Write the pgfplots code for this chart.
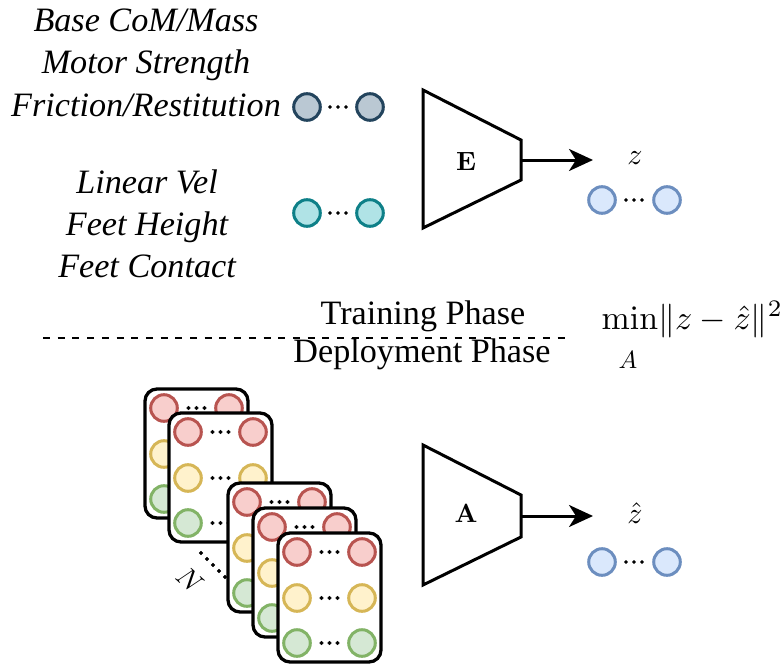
\RequirePackage{fix-cm}
\documentclass[border=0pt]{standalone}
\usepackage[no-math]{fontspec}
\setmainfont{Liberation Serif}
\newfontfamily\tnr{Liberation Serif}
\usepackage{pgfplots}
\pgfplotsset{compat=1.18}
\usetikzlibrary{arrows.meta}
\definecolor{dkF}{HTML}{BAC8D3}\definecolor{dkD}{HTML}{23445D}
\definecolor{tlF}{HTML}{B0E3E6}\definecolor{tlD}{HTML}{0E8088}
\definecolor{blF}{HTML}{DAE8FC}\definecolor{blD}{HTML}{6C8EBF}
\definecolor{rdF}{HTML}{F8CECC}\definecolor{rdD}{HTML}{B85450}
\definecolor{ylF}{HTML}{FFF2CC}\definecolor{ylD}{HTML}{D6B656}
\definecolor{gnF}{HTML}{D5E8D4}\definecolor{gnD}{HTML}{82B366}
\pgfplotsset{
  circ/.style 2 args={only marks, mark=*, mark size=13.3bp, mark options={draw=#2, fill=#1, line width=3bp}},
  dots/.style={only marks, mark=*, mark size=1.8bp, mark options={draw=black, fill=black}},
  card/.style={draw=black, fill=white, line width=3.3bp, rounded corners=12bp},
  trap/.style={draw=black, fill=white, line width=3bp, line join=miter},
  arr/.style={line width=3bp, -{Stealth[length=24bp, width=22bp, inset=7bp]}},
}
\begin{document}
\begin{tikzpicture}
\begin{axis}[width=784bp, height=666bp, scale only axis,
  xmin=0, xmax=784, ymin=0, ymax=666, y dir=reverse,
  axis lines=none, clip=false, clip marker paths=true]
% dashed separator
\addplot[black, line width=2bp, dash pattern=on 7bp off 7.7bp] coordinates {(43,338) (565,338)};
% top inputs
\addplot[circ={dkF}{dkD}] coordinates {(307,107) (370,107)};
\addplot[dots, mark size=1.6bp] coordinates {(330,107) (338,107) (346,107)};
\addplot[circ={tlF}{tlD}] coordinates {(307,213) (370,213)};
\addplot[dots, mark size=1.6bp] coordinates {(330,213) (338,213) (346,213)};
% encoder E
\addplot[trap] coordinates {(423,90) (521,140) (521,180) (423,228)} -- cycle;
\addplot[arr] coordinates {(521,160) (593,160)};
\addplot[circ={blF}{blD}] coordinates {(602,200) (667,200)};
\addplot[dots, mark size=1.6bp] coordinates {(626,200) (634,200) (642,200)};
% adaptation A
\addplot[trap] coordinates {(423,445) (521,495) (521,537) (423,585)} -- cycle;
\addplot[arr] coordinates {(521,516) (593,516)};
\addplot[circ={blF}{blD}] coordinates {(602,562) (667,562)};
\addplot[dots, mark size=1.6bp] coordinates {(626,562) (634,562) (642,562)};
% card 1
\addplot[card] coordinates {(145,389) (248,389) (248,518) (145,518)} -- cycle;
\addplot[circ={rdF}{rdD}] coordinates {(164,408) (229,408)};
\addplot[circ={ylF}{ylD}] coordinates {(164,454) (229,454)};
\addplot[circ={gnF}{gnD}] coordinates {(164,499) (229,499)};
\addplot[dots] coordinates {(188.5,408) (196.5,408) (204.5,408) (188.5,454) (196.5,454) (204.5,454) (188.5,499) (196.5,499) (204.5,499)};
% card 2
\addplot[card] coordinates {(169,413) (272,413) (272,542) (169,542)} -- cycle;
\addplot[circ={rdF}{rdD}] coordinates {(188,432) (253,432)};
\addplot[circ={ylF}{ylD}] coordinates {(188,478) (253,478)};
\addplot[circ={gnF}{gnD}] coordinates {(188,523) (253,523)};
\addplot[dots] coordinates {(212.5,432) (220.5,432) (228.5,432) (212.5,478) (220.5,478) (228.5,478) (212.5,523) (220.5,523) (228.5,523)};
% diagonal dots
\addplot[dots] coordinates {(201,553) (207,559) (213,565) (219,571) (225,577)};
% card 3
\addplot[card] coordinates {(228,483) (331,483) (331,612) (228,612)} -- cycle;
\addplot[circ={rdF}{rdD}] coordinates {(247,502) (312,502)};
\addplot[circ={ylF}{ylD}] coordinates {(247,548) (312,548)};
\addplot[circ={gnF}{gnD}] coordinates {(247,593) (312,593)};
\addplot[dots] coordinates {(271.5,502) (279.5,502) (287.5,502) (271.5,548) (279.5,548) (287.5,548) (271.5,593) (279.5,593) (287.5,593)};
% card 4
\addplot[card] coordinates {(253,508) (356,508) (356,637) (253,637)} -- cycle;
\addplot[circ={rdF}{rdD}] coordinates {(272,527) (337,527)};
\addplot[circ={ylF}{ylD}] coordinates {(272,573) (337,573)};
\addplot[circ={gnF}{gnD}] coordinates {(272,618) (337,618)};
\addplot[dots] coordinates {(296.5,527) (304.5,527) (312.5,527) (296.5,573) (304.5,573) (312.5,573) (296.5,618) (304.5,618) (312.5,618)};
% card 5
\addplot[card] coordinates {(278,533) (381,533) (381,662) (278,662)} -- cycle;
\addplot[circ={rdF}{rdD}] coordinates {(297,552) (362,552)};
\addplot[circ={ylF}{ylD}] coordinates {(297,598) (362,598)};
\addplot[circ={gnF}{gnD}] coordinates {(297,643) (362,643)};
\addplot[dots] coordinates {(321.5,552) (329.5,552) (337.5,552) (321.5,598) (329.5,598) (337.5,598) (321.5,643) (329.5,643) (337.5,643)};
% texts
\begin{scope}[every node/.style={anchor=base, inner sep=0pt, font=\tnr\fontsize{34.3}{40}\selectfont\itshape}]
\node at (axis cs:146,32) {Base CoM/Mass};
\node at (axis cs:146,74) {Motor Strength};
\node at (axis cs:146,116) {Friction/Restitution};
\node at (axis cs:147,193) {Linear Vel};
\node at (axis cs:147,235) {Feet Height};
\node at (axis cs:147,277) {Feet Contact};
\end{scope}
\begin{scope}[every node/.style={anchor=base, inner sep=0pt, font=\tnr\fontsize{34.3}{40}\selectfont}]
\node at (axis cs:423,324) {Training Phase};
\node at (axis cs:422,362) {Deployment Phase};
\end{scope}
\node[anchor=base west, inner sep=0pt, scale=3.4] at (axis cs:601,329) {$\mathrm{min}\|z-\hat{z}\|^2$};
\node[anchor=base, inner sep=0pt, scale=2.5] at (axis cs:628,368) {$A$};
\node[anchor=base, inner sep=0pt, scale=2.65] at (axis cs:466,170) {$\mathbf{E}$};
\node[anchor=base, inner sep=0pt, scale=2.65] at (axis cs:466,522) {$\mathbf{A}$};
\node[anchor=base, inner sep=0pt, scale=3.0] at (axis cs:635,164) {$z$};
\node[anchor=base, inner sep=0pt, scale=3.0] at (axis cs:635,523) {$\hat{z}$};
\node[inner sep=0pt, rotate=-42, scale=2.8] at (axis cs:190,580) {$N$};
\end{axis}
\pgfresetboundingbox
\path (current axis.south west) rectangle (current axis.north east);
\end{tikzpicture}
\end{document}
